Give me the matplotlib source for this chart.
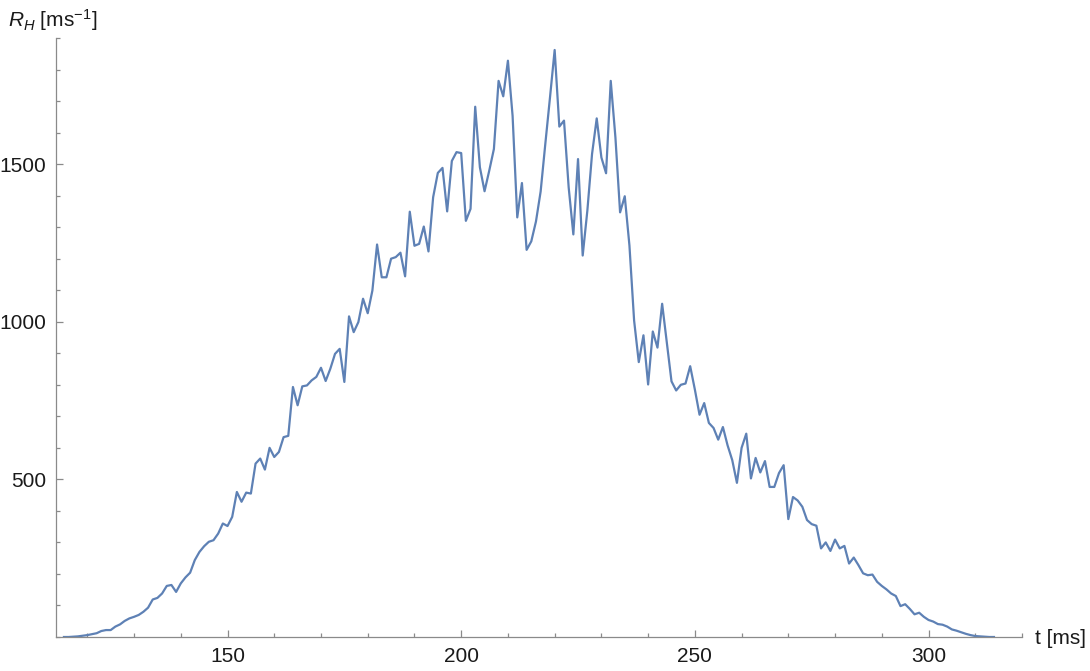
import matplotlib
matplotlib.use("Agg")
import matplotlib.pyplot as plt
from matplotlib.ticker import MultipleLocator

plt.rcParams['font.family'] = ['Liberation Sans', 'DejaVu Sans']
plt.rcParams['mathtext.fontset'] = 'custom'
plt.rcParams['mathtext.rm'] = 'Liberation Sans'
plt.rcParams['mathtext.it'] = 'Liberation Sans:italic'

# time in ms, one sample per ms
t_start = 115
r_h = [0, 0, 1, 2, 4,
       6, 9, 12, 19, 22, 22, 33, 40, 51, 59,
       64, 70, 80, 93, 119, 124, 138, 162, 165, 143,
       170, 189, 204, 244, 270, 288, 302, 307, 328, 360,
       352, 381, 460, 429, 458, 455, 550, 566, 531, 600,
       571, 587, 634, 638, 793, 735, 795, 798, 814, 825,
       854, 812, 851, 898, 914, 809, 1017, 967, 999, 1073,
       1027, 1099, 1245, 1141, 1141, 1200, 1205, 1219, 1144, 1349,
       1241, 1247, 1302, 1223, 1395, 1472, 1488, 1350, 1510, 1538,
       1535, 1320, 1358, 1682, 1490, 1414, 1479, 1548, 1764, 1715,
       1828, 1653, 1331, 1440, 1228, 1255, 1318, 1413, 1564, 1711,
       1862, 1619, 1638, 1426, 1277, 1516, 1210, 1353, 1532, 1645,
       1521, 1471, 1764, 1585, 1347, 1398, 1242, 1004, 872, 957,
       801, 969, 918, 1057, 935, 811, 782, 800, 804, 859,
       785, 705, 742, 679, 663, 626, 666, 608, 561, 489,
       600, 645, 503, 568, 522, 558, 476, 476, 520, 545,
       374, 444, 433, 413, 371, 358, 353, 281, 300, 273,
       309, 281, 289, 233, 252, 228, 202, 196, 198, 175,
       162, 151, 138, 130, 98, 104, 89, 72, 77, 64,
       54, 49, 41, 39, 33, 24, 20, 15, 10, 6,
       3, 2, 1, 0, 0]
t = list(range(t_start, t_start + len(r_h)))

fig = plt.figure(figsize=(10.9, 6.71), dpi=100)
ax = fig.add_axes([56/1090, 34/671, (1022-56)/1090, (637-38)/671])

ax.plot(t, r_h, color='#5E81B5', lw=1.6)

ax.set_xlim(113.3, 320)
ax.set_ylim(0, 1900)

for s in ['top', 'right']:
    ax.spines[s].set_visible(False)
for s in ['left', 'bottom']:
    ax.spines[s].set_color('#8a8a8a')
    ax.spines[s].set_linewidth(0.9)

ax.xaxis.set_major_locator(MultipleLocator(50))
ax.xaxis.set_minor_locator(MultipleLocator(10))
ax.yaxis.set_major_locator(MultipleLocator(500))
ax.yaxis.set_minor_locator(MultipleLocator(100))
ax.tick_params(which='both', direction='in', color='#8a8a8a', width=0.9,
               labelsize=15, labelcolor='#1a1a1a')
ax.tick_params(which='major', length=5, pad=7)
ax.tick_params(which='minor', length=3)
ax.set_xticks([150, 200, 250, 300])
ax.set_yticks([500, 1000, 1500])

fig.text(1035/1090, 1 - 638/671, 't [ms]', fontsize=15, color='#1a1a1a',
         ha='left', va='center')
fig.text(8/1090, 1 - 20/671, r'$R_H$ [ms$^{-1}$]', fontsize=15, color='#1a1a1a',
         ha='left', va='center')

fig.savefig('out.png', dpi=100)
